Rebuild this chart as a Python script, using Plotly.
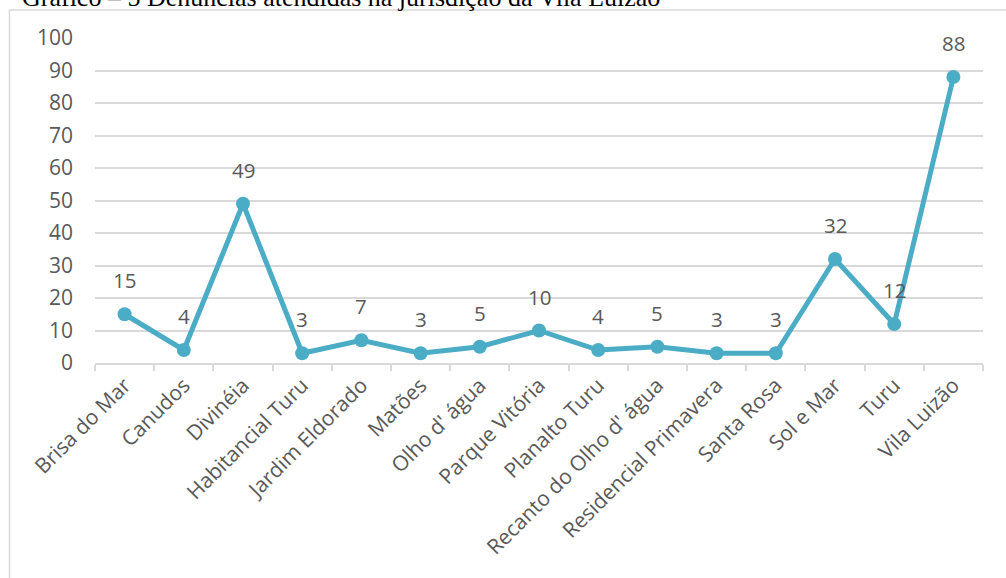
import plotly.graph_objects as go

categories = ["Brisa do Mar", "Canudos", "Divinéia", "Habitancial Turu", "Jardim Eldorado",
              "Matões", "Olho d' água", "Parque Vitória", "Planalto Turu",
              "Recanto do Olho d' água", "Residencial Primavera", "Santa Rosa",
              "Sol e Mar", "Turu", "Vila Luizão"]
values = [15, 4, 49, 3, 7, 3, 5, 10, 4, 5, 3, 3, 32, 12, 88]
title_text = "Gráfico – 5 Denúncias atendidas na jurisdição da Vila Luizão"

W, H = 1006, 578
ml, mr, mt, mb = 95, 23, 38, 215
pw, ph = W - ml - mr, H - mt - mb

color = "#4BACC6"
gray = "#595959"

fig = go.Figure()
fig.add_trace(go.Scatter(
    x=categories, y=values, mode="lines+markers",
    line=dict(color=color, width=5),
    marker=dict(color=color, size=14),
    hoverinfo="skip",
))

for c, v in zip(categories, values):
    fig.add_annotation(x=c, y=v, text=str(v), showarrow=False,
                       yanchor="bottom", yshift=18,
                       font=dict(family="Open Sans", size=20.5, color=gray))

fig.add_annotation(xref="paper", yref="paper", x=(20 - ml) / pw, y=(mt + ph - 14) / ph,
                   xanchor="left", yanchor="bottom", text=title_text, showarrow=False,
                   font=dict(family="Liberation Serif", size=26, color="black"))

fig.add_shape(type="rect", xref="paper", yref="paper",
              x0=(9.5 - ml) / pw, x1=(W + 20 - ml) / pw,
              y0=(mt + ph - (H + 20)) / ph, y1=(mt + ph - 10) / ph,
              line=dict(color="#d9d9d9", width=1.5), fillcolor="rgba(0,0,0,0)", layer="below")

fig.update_layout(
    width=W, height=H,
    margin=dict(l=ml, r=mr, t=mt, b=mb),
    paper_bgcolor="white", plot_bgcolor="white",
    showlegend=False,
    font=dict(family="Open Sans", color=gray),
)
fig.update_xaxes(
    type="category", range=[-0.5, len(categories) - 0.5],
    tickangle=-45, tickson="boundaries",
    ticks="outside", ticklen=6, tickcolor="#d9d9d9", tickwidth=1.5,
    showline=True, linecolor="#d9d9d9", linewidth=1.5,
    showgrid=False, tickfont=dict(size=21, color=gray),
)
fig.update_yaxes(
    range=[0, 100], dtick=10, showgrid=True, gridcolor="#d9d9d9", gridwidth=1.5,
    zeroline=False, showline=False, ticks="", ticklabelstandoff=21,
    tickfont=dict(size=21, color=gray),
)

fig.write_html("out.html")
